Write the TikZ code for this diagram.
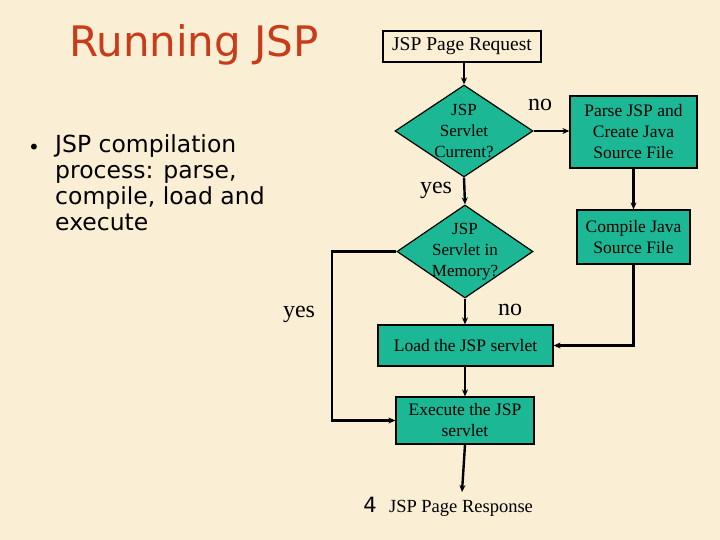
\documentclass[tikz,border=0pt]{standalone}
\usepackage{fontspec}
\setmainfont{Liberation Serif}
\newfontfamily\comicf{DejaVu Sans}
\usetikzlibrary{shapes.geometric,arrows.meta}
\definecolor{bg}{RGB}{250,239,212}
\definecolor{teal}{RGB}{28,184,150}
\definecolor{titlered}{RGB}{200,60,25}
\begin{document}
\begin{tikzpicture}[x=1pt,y=-1pt,
  box/.style={draw=black,fill=teal,line width=1.2pt,inner sep=0pt,align=center,font=\fontsize{17.5}{21}\selectfont},
  dec/.style={draw=black,fill=teal,line width=1.2pt,inner sep=-20pt,align=center,font=\fontsize{17}{21}\selectfont},
  conn/.style={line width=2.4pt,-{Stealth[length=7pt,width=6pt]}},
  lbl/.style={font=\fontsize{24}{26}\selectfont}]
\fill[bg] (0,0) rectangle (720,540);
\useasboundingbox (0,0) rectangle (720,540);
% title and bullet
\node[text=titlered,font=\comicf\fontsize{42}{44}\selectfont,anchor=center] (title) at (194,45) {Running JSP};
\node[font=\comicf\fontsize{23.5}{26.3}\selectfont,anchor=north west,align=left,inner sep=0pt] (bul) at (55,134) {JSP compilation\\process: parse,\\compile, load and\\execute};
\node[font=\comicf\fontsize{20}{26}\selectfont,anchor=east,inner sep=0pt] (dot) at (40,149) {\textbullet};
% nodes
\node[draw=black,fill=bg,line width=1.2pt,minimum width=158pt,minimum height=31pt,inner sep=0pt,font=\fontsize{19.5}{22}\selectfont] (req) at (462,46.5) {JSP Page Request};
\node[dec,diamond,minimum width=138pt,minimum height=92pt,aspect=1.5] (d1) at (464,131) {JSP\\Servlet\\Current?};
\node[dec,diamond,minimum width=136pt,minimum height=93pt,aspect=1.46] (d2) at (465,251.5) {JSP\\Servlet in\\Memory?};
\node[box,minimum width=127pt,minimum height=72pt] (parse) at (633.5,132) {Parse JSP and\\Create Java\\Source File};
\node[box,minimum width=113pt,minimum height=54pt] (comp) at (633.5,237) {Compile Java\\Source File};
\node[box,minimum width=175pt,minimum height=41pt] (load) at (465.5,345.5) {Load the JSP servlet};
\node[box,minimum width=138pt,minimum height=47pt] (exec) at (465,420.5) {Execute the JSP\\servlet};
\coordinate (resp) at (462,492);
\node[font=\fontsize{18.5}{20}\selectfont,inner sep=0pt] (resptxt) at (461,508) {JSP Page Response};
\node[font=\comicf\fontsize{21}{22}\selectfont,inner sep=0pt] (four) at (370,505) {4};
% labels
\node[lbl] (no1) at (540,105) {no};
\node[lbl] (yes1) at (436,190) {yes};
\node[lbl] (no2) at (510,310) {no};
\node[lbl] (yes2) at (299,314) {yes};
% connectors
\draw[conn] (req.south -| d1.north) -- (d1.north);
\draw[conn] (d1.east) -- (parse.west |- d1.east);
\draw[conn] (d1.south) -- (d2.north);
\draw[conn] (parse.south) -- (comp.north);
\draw[conn] (comp.south) -- (comp.south |- load.east) -- (load.east);
\draw[conn] (d2.south) -- (load.north -| d2.south);
\draw[conn] (load.south -| exec.north) -- (exec.north);
\draw[conn] (d2.west) -- (332,251.5) -- (332,420.5) -- (exec.west);
\draw[conn] (exec.south) -- (resp);
\end{tikzpicture}
\end{document}
